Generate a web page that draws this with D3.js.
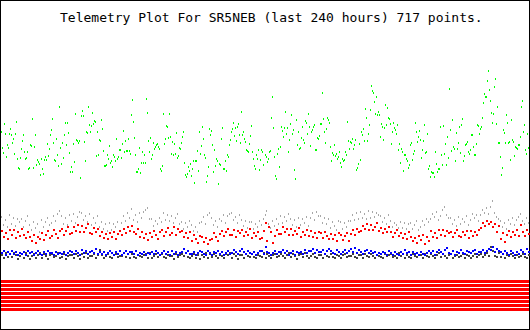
<!DOCTYPE html>
<html>
<head>
<meta charset="utf-8">
<script src="https://cdn.jsdelivr.net/npm/d3@7"></script>
<style>
  html, body { margin: 0; padding: 0; background: #fff; }
  svg { display: block; }
</style>
</head>
<body>
<div id="chart"></div>
<script>
const title = "Telemetry Plot For SR5NEB (last 240 hours) 717 points.";
const totalHours = 240;

// analog channels, raw counts 0-255, oldest first
const ch1 = [ // green
  136,120,115,144,134,111,123,120,134,139,133,125,129,114,134,146,109,100,99,110,119,127,133,116,109,110,116,99,100,123,122,149,100,121,133,103,108,106,104,93,109,99,94,108,111,108,124,112,119,133,138,149,125,108,107,129,113,102,161,120,104,125,110,133,145,123,145,135,115,96,101,96,124,106,154,128,127,125,127,90,152,157,152,126,107,136,135,161,143,136,142,155,144,147,146,112,136,113,128,127,148,139,117,102,102,103,113,109,122,105,107,101,113,111,107,129,109,111,118,118,110,124,137,116,127,117,117,129,117,114,153,168,
  146,130,113,96,96,99,120,95,105,116,105,113,105,169,155,127,116,130,109,113,125,119,121,123,124,121,119,99,97,102,154,124,129,142,141,130,154,131,114,126,113,124,114,135,110,112,120,119,125,131,136,105,93,91,94,101,97,104,92,99,107,85,107,107,117,97,136,114,122,141,129,113,110,86,92,101,139,133,137,123,96,118,102,109,107,84,104,103,129,140,99,99,107,97,113,111,123,128,136,139,145,132,140,127,141,144,133,125,156,133,136,129,126,118,117,116,124,132,142,116,109,102,99,113,109,118,98,108,118,116,103,113,
  111,106,109,116,117,150,171,140,111,92,89,114,119,101,121,141,137,131,140,156,134,140,116,128,144,153,134,138,98,89,148,123,136,119,120,130,141,128,125,147,145,134,154,141,122,136,138,141,143,118,118,130,129,132,144,144,175,149,136,125,139,150,148,145,121,107,115,113,123,112,114,109,111,116,105,101,109,107,108,116,113,146,127,119,126,125,129,119,123,128,98,100,104,124,108,136,133,139,127,159,150,127,134,143,158,182,177,175,166,154,171,153,156,153,131,144,141,128,140,163,143,160,150,149,144,124,136,145,140,138,134,143,118,
  124,105,119,116,97,113,113,109,107,100,103,123,125,108,114,117,145,136,126,131,137,128,110,118,127,143,115,116,134,99,102,91,96,95,95,91,116,104,96,99,99,141,113,103,142,114,124,103,131,110,179,138,117,148,121,119,107,135,119,125,141,115,143,149,107,112,123,124,126,116,114,118,133,133,121,113,113,124,143,142,134,139,141,150,165,174,171,171,187,197,178,167,155,145,154,181,189,144,161,125,125,111,93,100,138,135,125,153,145,125,126,108,148,128,126,112,121,120,119,123,123,131,161,167,136,143,118,114,134,120
];
const ch2 = [ // gray
  51,43,48,41,53, 44,50,42,49,46, 49,41,47,52,43, 38,46,40,44,36, 48,41,46,50,43, 45,52,47,54,57,
  52,44,50,43,53, 47,54,45,51,56, 55,48,52,46,54, 43,50,45,52,41, 46,39,44,37,45, 38,44,41,46,37,
  45,52,47,55,50, 59,48,53,46,55, 50,56,58,60,49, 49,42,47,44,50, 46,55,48,53,47, 52,45,50,54,44,
  46,39,45,41,47, 43,37,41,36,45, 46,51,44,53,55, 50,43,47,41,49, 47,53,45,52,54, 55,48,51,45,53,
  48,42,47,40,46, 46,39,44,41,47, 43,49,53,57,44, 40,47,42,49,44, 52,45,51,47,54, 49,43,48,41,50,
  43,49,45,51,42, 50,55,48,56,52, 52,45,50,44,49, 40,46,42,38,47, 46,39,45,41,47, 47,53,48,55,49,
  56,50,54,49,57, 50,56,51,55,53, 52,46,50,44,53, 47,41,45,43,40, 46,40,45,39,44, 45,39,43,47,38,
  41,47,43,49,46, 49,54,51,56,48, 52,58,61,53,50, 50,44,48,42,51, 44,49,46,52,43, 48,54,50,53,47,
  53,58,55,60,54, 61,67,55,51,49, 47,41,45,39,48, 44,50,43,48,51, 54,47,44,50,45
];
const ch3 = [ // red
  37,31,35,29,38, 33,38,30,36,32, 39,33,30,36,31, 27,33,25,31,29, 35,28,33,37,30, 32,38,34,30,37,
  39,33,37,41,34, 35,41,37,43,36, 42,36,40,44,35, 34,40,36,39,32, 36,30,34,29,35, 31,36,29,34,37,
  33,39,35,41,37, 42,36,34,39,31, 36,30,34,28,35, 31,37,33,29,36, 38,32,36,40,33, 35,41,33,39,36,
  37,31,35,30,36, 27,33,29,25,32, 31,26,30,24,28, 29,35,31,27,34, 37,32,36,39,33, 33,38,31,37,35,
  38,32,36,33,39, 30,35,32,36,29, 30,37,45,27,41, 36,25,32,38,34, 34,41,36,39,33, 39,33,37,34,40,
  31,36,33,38,32, 37,31,35,30,36, 35,30,36,32,29, 34,29,33,27,35, 33,28,32,35,27, 34,38,33,39,36,
  37,42,39,44,38, 43,38,41,45,37, 40,35,39,36,41, 36,31,35,38,32, 35,30,34,29,36, 31,27,30,25,32,
  28,33,24,31,27, 37,31,35,30,38, 33,38,32,37,35, 36,31,35,38,32, 31,36,33,37,30, 37,32,36,33,38,
  40,45,42,47,44, 46,41,44,36,42, 29,35,26,33,37, 31,36,33,38,32, 43,36,32,38,34
];
const ch4 = [ // dark gray
  13,10,15,11,14, 11,15,13,9,12, 14,10,15,12,9, 12,14,10,13,15, 10,14,12,9,13, 14,11,12,15,10,
  11,14,9,12,13, 13,10,14,12,9, 14,11,15,10,12, 12,14,10,13,18, 13,10,12,14,11, 10,13,14,11,12,
  12,15,11,14,10, 14,11,10,13,12, 11,13,14,10,15, 10,12,14,11,13, 14,11,10,13,12, 12,9,14,11,13,
  14,12,15,11,10, 12,14,10,13,9, 13,11,15,10,14, 11,14,12,10,13, 12,10,14,13,15, 10,14,12,9,13,
  13,10,14,12,11, 14,11,10,13,12, 11,15,10,14,12, 10,13,14,11,12, 14,12,10,13,15, 11,14,12,9,13,
  14,11,15,12,10, 12,14,11,10,13, 13,10,14,12,11, 14,11,10,13,12, 10,13,14,11,12, 12,14,11,10,13,
  13,10,14,12,11, 14,12,10,13,12, 11,10,14,12,13, 14,11,12,10,15, 12,14,10,13,11, 10,14,12,11,13,
  13,10,14,12,11, 14,12,10,13,15, 11,14,12,10,13, 14,10,12,13,11, 12,14,10,13,12, 10,12,14,11,13,
  14,11,13,15,12, 21,17,12,11,15, 11,14,10,13,12, 14,12,10,13,11, 12,14,11,10,13
];
const ch5 = [ // blue
  15,17,13,16,14, 17,14,16,13,15, 14,16,13,17,15, 16,13,15,17,14, 13,16,14,17,15, 15,13,16,14,15,
  14,16,13,15,17, 16,14,17,15,13, 18,15,17,14,16, 17,15,19,14,16, 14,16,13,15,17, 15,13,16,14,17,
  13,15,17,14,16, 16,14,17,13,15, 14,16,13,15,14, 16,14,17,15,13, 15,17,14,16,13, 17,14,16,13,15,
  16,19,15,17,14, 14,16,13,15,17, 16,14,13,17,15, 13,16,15,17,14, 16,13,15,17,14, 15,18,16,14,17,
  19,16,14,17,15, 14,16,13,15,17, 17,14,21,16,15, 13,15,17,14,16, 16,18,15,17,13, 15,17,13,16,15,
  16,14,18,15,17, 17,19,15,18,16, 16,18,14,17,19, 17,15,14,18,16, 14,16,18,15,17, 19,16,20,15,18,
  16,14,17,18,15, 17,15,16,13,15, 14,16,15,13,17, 15,13,16,14,13, 16,14,18,15,16, 13,16,14,15,13,
  16,14,13,15,17, 15,17,13,16,18, 16,14,18,20,15, 14,17,13,16,15, 18,15,14,17,16, 15,17,18,14,16,
  16,18,15,17,19, 18,21,16,19,17, 16,14,17,15,13, 17,15,13,16,14, 18,16,14,19,16
];
// digital bits, 1 = set for whole period
const bits = [1, 1, 1, 1, 1, 1, 1, 1];

const series = [
  { values: ch2, color: "#a8a8a8", w: 1 },
  { values: ch3, color: "#ff0000", w: 2 },
  { values: ch4, color: "#404040", w: 2 },
  { values: ch5, color: "#0000ff", w: 2 },
  { values: ch1, color: "#00ff00", w: 1 },
];

const width = 530;
const height = 330;

const xScale = d3.scaleLinear().domain([0, totalHours]).range([1, 528]);
const yScale = d3.scaleLinear().domain([0, 255]).range([268, 13]);
const bitScale = d3.scaleBand().domain(d3.range(bits.length)).range([280, 312]);

const svg = d3
  .select("#chart")
  .append("svg")
  .attr("width", width)
  .attr("height", height)
  .attr("shape-rendering", "crispEdges");

svg.append("rect")
  .attr("x", 0.5).attr("y", 0.5)
  .attr("width", width - 1).attr("height", height - 1)
  .attr("fill", "#fff").attr("stroke", "#000");

svg.append("text")
  .attr("x", 60)
  .attr("y", 22)
  .attr("font-family", "DejaVu Sans Mono")
  .attr("font-size", "13px")
  .attr("fill", "#000")
  .text(title);

series.forEach((s) => {
  const n = s.values.length;
  svg.append("g")
    .selectAll("rect")
    .data(s.values)
    .enter()
    .append("rect")
    .attr("x", (d, i) => Math.round(xScale((i * totalHours) / (n - 1))))
    .attr("y", (d) => Math.round(yScale(d)) - 1)
    .attr("width", s.w)
    .attr("height", 2)
    .attr("fill", s.color);
});

svg.append("g")
  .selectAll("rect")
  .data(bits)
  .enter()
  .filter((d) => d === 1)
  .append("rect")
  .attr("x", xScale(0))
  .attr("y", (d, i) => bitScale(i))
  .attr("width", xScale(totalHours) - xScale(0) + 1)
  .attr("height", bitScale.bandwidth() - 1)
  .attr("fill", "#ff0000");
</script>
</body>
</html>
